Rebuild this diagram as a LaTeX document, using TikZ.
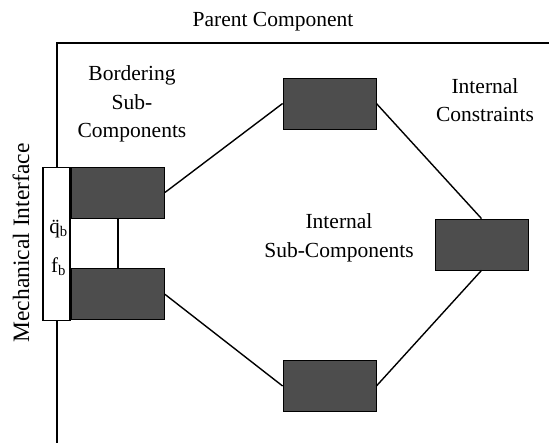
\documentclass[tikz,border=0pt]{standalone}
\usepackage{amsmath}
\usepackage{fontspec}
\setmainfont{Liberation Serif}
\usetikzlibrary{positioning}
\definecolor{boxgray}{HTML}{4D4D4D}

\tikzset{
  subbox/.style={draw=black, line width=0.8pt, fill=boxgray,
    minimum width=93pt, minimum height=51pt, inner sep=0pt},
  iface/.style={draw=black, line width=1.8pt, fill=white,
    minimum width=27pt, minimum height=153pt, inner sep=0pt},
  label/.style={align=center, inner sep=0pt,
    font=\fontsize{21.5}{28.5}\selectfont},
  link/.style={line width=1.4pt},
}

\begin{document}
\begin{tikzpicture}[x=1pt, y=-1pt]
      \useasboundingbox (0,0) rectangle (549,443);

      % parent component frame
      \coordinate (pc) at (57,43);
      \draw[line width=1.8pt] (pc |- 0,443) -- (pc) -- (549,43);
      \node[label] (parent) at (273,22) {Parent Component};

      % bordering sub-components
      \node[subbox] (bu) at (118,192.5) {};
      \node[subbox, below=50pt of bu] (bl) {};
      \node[iface, anchor=north east] (mi) at (bu.north west) {};
      \node[label, font=\fontsize{21}{24}\selectfont] (qb) at (58.5,229) {\"q\textsubscript{b}};
      \node[label, font=\fontsize{21}{24}\selectfont] (fb) at (58.5,267) {f\textsubscript{b}};

      % internal sub-components
      \node[subbox] (top) at (329.5,103.5) {};
      \node[subbox] (bot) at (329.5,386) {};
      \node[subbox] (right) at (481.5,244.5) {};

      \draw[link] (bu.south) -- (bl.north);
      \draw[link] (bu.east) -- (top.west);
      \draw[link] (top.east) -- (right.north);
      \draw[link] (right.south) -- (bot.east);
      \draw[link] (bl.east) -- (bot.west);

      % labels
      \node[label] (border) at (132,104) {Bordering\\Sub-\\Components};
      \node[label] (constr) at (485,100) {Internal\\Constraints};
      \node[label] (internal) at (339,238) {Internal\\Sub-Components};
      \node[label, rotate=90, font=\fontsize{23.5}{28}\selectfont] (mech) at (21,243) {Mechanical Interface};
\end{tikzpicture}
\end{document}
